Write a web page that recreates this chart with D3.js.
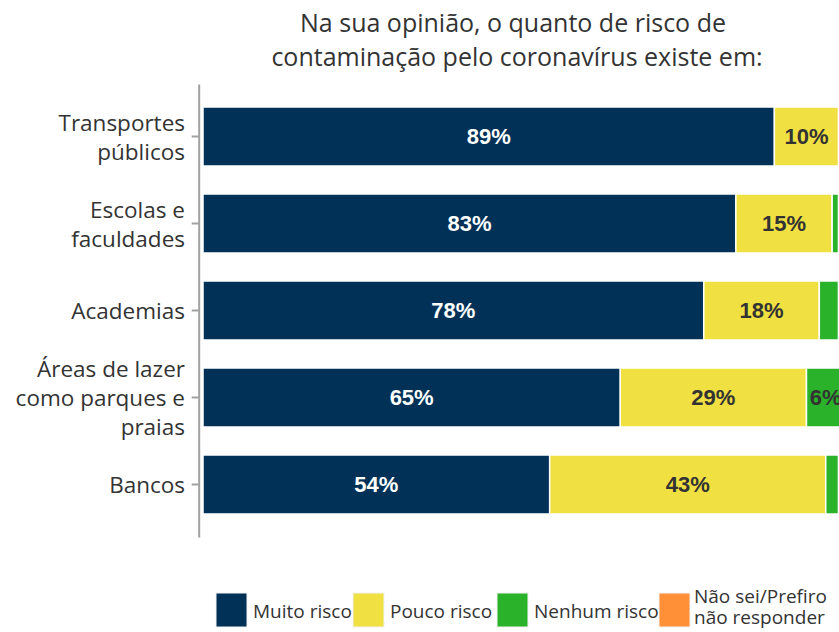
<!DOCTYPE html>
<html>
<head>
<meta charset="utf-8">
<title>Risco de contaminação</title>
<script src="https://d3js.org/d3.v7.min.js"></script>
<style>
  body { margin: 0; background: #fff; }
  text { font-family: "Open Sans", sans-serif; }
  .pct { font-family: "Liberation Sans", Arial, sans-serif; font-weight: bold; font-size: 22px; }
</style>
</head>
<body>
<div id="chart"></div>
<script>
// categories (one entry per line of the label)
var categories = [
  ["Transportes", "públicos"],
  ["Escolas e", "faculdades"],
  ["Academias"],
  ["Áreas de lazer", "como parques e", "praias"],
  ["Bancos"]
];
var muitoRisco  = [89, 83, 78, 65, 54];
var poucoRisco  = [10, 15, 18, 29, 43];
var nenhumRisco = [1, 1, 3, 6, 2];
var naoSei      = [1, 1, 1, 0, 1];

var seriesNames = ["Muito risco", "Pouco risco", "Nenhum risco", "Não sei/Prefiro não responder"];
var colors = ["#013157", "#f0e042", "#29b22a", "#ff9038"];
var labelColors = ["#ffffff", "#333333", "#333333", "#333333"];

var width = 839, height = 632;

var svg = d3.select("#chart").append("svg")
  .attr("width", width)
  .attr("height", height);

// title
svg.append("text")
  .attr("x", 513).attr("y", 32)
  .attr("text-anchor", "middle")
  .style("font-size", "25px").style("fill", "#333")
  .text("Na sua opinião, o quanto de risco de");
svg.append("text")
  .attr("x", 517).attr("y", 66)
  .attr("text-anchor", "middle")
  .style("font-size", "25px").style("fill", "#333")
  .text("contaminação pelo coronavírus existe em:");

var ids = d3.range(categories.length);

var y = d3.scaleBand()
  .domain(ids)
  .range([84, 537])
  .paddingInner(0.322)
  .paddingOuter(0.2645);

var x = d3.scaleLinear()
  .domain([0, 100])
  .range([203, 845]);

var table = ids.map(function(i) {
  return { id: i, s0: muitoRisco[i], s1: poucoRisco[i], s2: nenhumRisco[i], s3: naoSei[i] };
});

var stack = d3.stack().keys(["s0", "s1", "s2", "s3"]);
var stacked = stack(table);

var layers = svg.append("g").selectAll("g")
  .data(stacked)
  .enter().append("g")
  .attr("fill", function(d, i) { return colors[i]; });

layers.selectAll("rect")
  .data(function(d) { return d; })
  .enter().append("rect")
  .attr("x", function(d) { return x(d[0]); })
  .attr("y", function(d) { return y(d.data.id); })
  .attr("width", function(d) { return x(d[1]) - x(d[0]); })
  .attr("height", y.bandwidth())
  .attr("stroke", "#fff")
  .attr("stroke-width", 1.5);

// percent labels
stacked.forEach(function(layer, k) {
  svg.append("g").selectAll("text")
    .data(layer.filter(function(d) { return d[1] - d[0] >= 5; }))
    .enter().append("text")
    .attr("class", "pct")
    .attr("x", function(d) { return (x(d[0]) + x(d[1])) / 2; })
    .attr("y", function(d) { return y(d.data.id) + y.bandwidth() / 2; })
    .attr("dy", "0.36em")
    .attr("text-anchor", "middle")
    .style("fill", labelColors[k])
    .text(function(d) { return (d[1] - d[0]) + "%"; });
});

// y axis
var axis = svg.append("g")
  .attr("transform", "translate(198.7,0)")
  .call(d3.axisLeft(y).tickSize(7).tickSizeOuter(0).tickFormat(""));
axis.selectAll("path, line").attr("stroke", "#a0a0a0").attr("stroke-width", 2);

var catLabels = svg.append("g").selectAll("text")
  .data(ids)
  .enter().append("text")
  .attr("text-anchor", "end")
  .style("font-size", "22.5px")
  .style("fill", "#333");

catLabels.each(function(i) {
  var lines = categories[i];
  var cy = y(i) + y.bandwidth() / 2;
  d3.select(this).selectAll("tspan")
    .data(lines)
    .enter().append("tspan")
    .attr("x", 185)
    .attr("y", function(t, j) { return cy + (j - (lines.length - 1) / 2) * 29 + 8.5; })
    .text(function(t) { return t; });
});

// legend
var legendX = [216, 353, 497, 659];
var legend = svg.append("g");
seriesNames.forEach(function(name, i) {
  var lx = legendX[i];
  legend.append("rect")
    .attr("x", lx).attr("y", 593)
    .attr("width", 31).attr("height", 34)
    .attr("fill", colors[i])
    .attr("stroke", "#f2f2f2").attr("stroke-width", 1);
  var t = legend.append("text")
    .attr("x", lx + 37)
    .style("font-size", "19px")
    .style("fill", "#333");
  if (i === 3) {
    t.append("tspan").attr("x", lx + 35).attr("y", 603).text("Não sei/Prefiro");
    t.append("tspan").attr("x", lx + 35).attr("y", 624).text("não responder");
  } else {
    t.attr("y", 618).text(name);
  }
});
</script>
</body>
</html>
